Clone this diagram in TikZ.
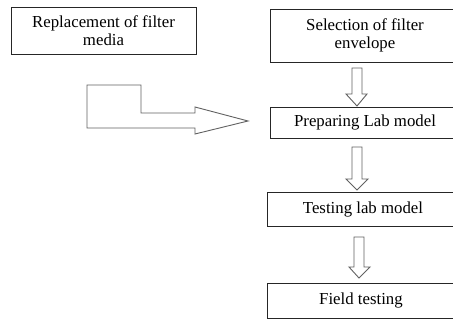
\documentclass[tikz,border=0pt]{standalone}
\usepackage{fontspec}
\setmainfont{Liberation Serif}
\begin{document}
\begin{tikzpicture}[x=1pt,y=-1pt,
  box/.style={draw=black!85,line width=0.9pt,inner sep=0pt,align=center,
    font=\fontsize{16.8}{18}\selectfont},
  blockarrow/.style={draw=black!62,line width=0.9pt,line join=miter,fill=white}]
\clip (0,0) rectangle (453,320);
\fill[white] (0,0) rectangle (453,320);
% boxes
\node[box,minimum width=185pt,minimum height=47pt] (b1) at (103.5,30.5) {Replacement of filter\\media};
\node[box,minimum width=190pt,minimum height=53pt] (b2) at (365,35.5) {Selection of filter\\envelope};
\node[box,minimum width=190pt,minimum height=31pt] (b3) at (365,122.5) {Preparing Lab model};
\node[box,minimum width=192pt,minimum height=34pt] (b4) at (363,209) {Testing lab model};
\node[box,minimum width=188pt,minimum height=35pt] (b5) at (361,300.5) {Field testing};
% bent arrow toward b3
\draw[blockarrow] (87,85) -- (141,85) -- (141,113) -- (195,113) -- (195,107)
  -- (248,121) coordinate (bt) -- (195,134) -- (195,128) -- (87,128) -- cycle;
% down arrows
\draw[blockarrow] (352,68) -- (362,68) -- (362,94) -- (367,94) -- (357,106) coordinate (t1)
  -- (346,94) -- (352,94) -- cycle;
\draw[blockarrow] (352,147) -- (362,147) -- (362,179) -- (368,179) -- (357,190) coordinate (t2)
  -- (346,179) -- (352,179) -- cycle;
\draw[blockarrow] (354,237) -- (364,237) -- (364,267) -- (370,267) -- (359,278) coordinate (t3)
  -- (349,267) -- (354,267) -- cycle;
\end{tikzpicture}
\end{document}
